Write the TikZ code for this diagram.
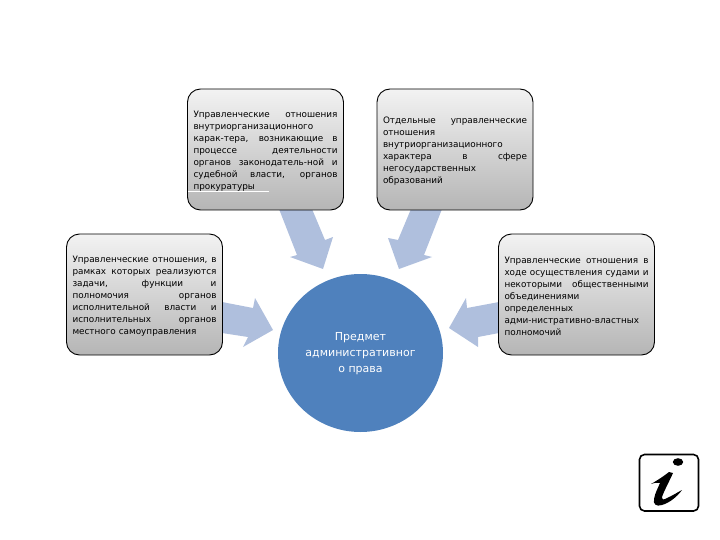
\documentclass[tikz,border=0pt]{standalone}
\usepackage{fontspec}
\setmainfont{DejaVu Sans}
\usetikzlibrary{shapes.geometric}
\definecolor{arrowblue}{HTML}{AFBFDD}
\definecolor{circleblue}{HTML}{4F81BD}
\newcommand{\jl}[1]{\leavevmode\hbox to 144pt{\spaceskip=.3em plus 1fil\relax #1}}
\tikzset{
  infobox/.style={draw=black,line width=0.9pt,rounded corners=13pt,top color=black!5,bottom color=black!29,
    minimum width=156pt,minimum height=121pt,inner sep=0pt},
  infotext/.style={inner sep=0pt,text width=144pt,align=left,text=black,
    font=\fontsize{8.85}{11.95}\selectfont,yshift=-2pt},
  blockarrow/.style={fill=arrowblue,draw=none},
  hub/.style={ellipse,fill=circleblue,draw=none,minimum width=165pt,minimum height=158pt,inner sep=0pt},
  hubtext/.style={inner sep=0pt,text=white,align=center,font=\fontsize{11}{16}\selectfont,yshift=-1pt}
}
\begin{document}
\begin{tikzpicture}[x=1pt,y=-1pt]
\useasboundingbox (0,0) rectangle (720,540);
% block arrows
\fill[blockarrow] (279,209)--(312,209)--(325,240)--(333,237)--(323,269)--(290,257)--(297,255)--cycle;
\fill[blockarrow] (442,209)--(411,209)--(398,240)--(388,238)--(399,269)--(432,257)--(424,255)--cycle;
\fill[blockarrow] (222,302)--(253,308)--(255,298)--(273,330)--(243,347)--(248,337)--(222,333)--cycle;
\fill[blockarrow] (499,302)--(467,308)--(466,298)--(449,328)--(478,347)--(478,337)--(499,333)--cycle;
% boxes
\node[infobox] (b1) at (265.5,149.5) {};
\node[infotext] (t1) at (b1.center) {\jl{Управленческие отношения}\\внутриорганизационного\\\jl{карак-тера, возникающие в}\\\jl{процессе деятельности}\\\jl{органов законодатель-ной и}\\\jl{судебной власти, органов}\\прокуратуры};
\draw[white,line width=0.8pt] (188,191.5)--(269,191.5);
\node[infobox] (b2) at (455,149.5) {};
\node[infotext] (t2) at (b2.center) {\jl{Отдельные управленческие}\\отношения\\внутриорганизационного\\\jl{характера в сфере}\\негосударственных\\образований};
\node[infobox] (b3) at (144.5,294.5) {};
\node[infotext] (t3) at (b3.center) {\jl{Управленческие отношения, в}\\\jl{рамках которых реализуются}\\\jl{задачи, функции и}\\\jl{полномочия органов}\\\jl{исполнительной власти и}\\\jl{исполнительных органов}\\местного самоуправления};
\node[infobox] (b4) at (576.5,294.5) {};
\node[infotext] (t4) at (b4.center) {\jl{Управленческие отношения в}\\\jl{ходе осуществления судами и}\\\jl{некоторыми общественными}\\объединениями\\определенных\\адми-нистративно-властных\\полномочий};
% hub
\node[hub] (hub) at (360.5,353) {};
\node[hubtext] (hubt) at (hub.center) {Предмет\\административног\\о права};
% info icon
\draw[black,line width=1.6pt,rounded corners=5pt] (639.5,454.5) rectangle (698.5,511);
\fill[black] (678,462) ellipse [x radius=5.2,y radius=3.8];
\fill[black] (651,484) .. controls (658,480) and (664,476) .. (669,472)
  -- (673,473) .. controls (669,482) and (664,491) .. (662,497)
  .. controls (662,500) and (664,500) .. (667,498)
  .. controls (672,496) and (678,492) .. (682,490)
  .. controls (677,497) and (669,503) .. (662,505)
  .. controls (656,507) and (653,504) .. (654,499)
  .. controls (655,493) and (658,488) .. (660,483)
  .. controls (657,482) and (654,483) .. (651,484) -- cycle;
\end{tikzpicture}
\end{document}
